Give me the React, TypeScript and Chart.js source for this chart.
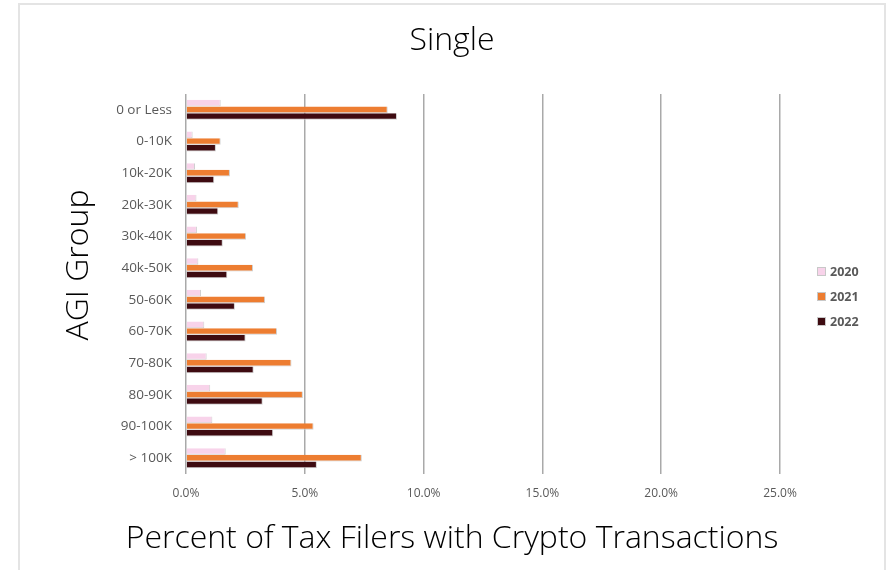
import React, { useEffect, useRef } from "react";
import { Chart, registerables } from "chart.js";

Chart.register(...registerables);

const categories = [
  "0 or Less",
  "0-10K",
  "10k-20K",
  "20k-30K",
  "30k-40K",
  "40k-50K",
  "50-60K",
  "60-70K",
  "70-80K",
  "80-90K",
  "90-100K",
  "> 100K",
];
const seriesNames = ["2020", "2021", "2022"];
const values2020 = [1.46, 0.28, 0.38, 0.44, 0.46, 0.52, 0.63, 0.77, 0.87, 1.02, 1.11, 1.67];
const values2021 = [8.49, 1.46, 1.85, 2.22, 2.53, 2.82, 3.33, 3.83, 4.44, 4.92, 5.37, 7.4];
const values2022 = [8.88, 1.26, 1.19, 1.36, 1.55, 1.74, 2.06, 2.51, 2.85, 3.23, 3.67, 5.51];
const xTicks = [0, 5, 10, 15, 20, 25];
const chartTitle = "Single";
const xTitle = "Percent of Tax Filers with Crypto Transactions";
const yTitle = "AGI Group";

const colors = ["#f8d3ea", "#ed7d31", "#3e0b11"];
const LIGHT_FONT = "'Open Sans'";
const TITLE_SIZE = 32;

const framePlugin = {
  id: "frame",
  beforeDraw(chart: any) {
    const ctx = chart.ctx;
    ctx.save();
    ctx.fillStyle = "#ffffff";
    ctx.fillRect(0, 0, chart.width, chart.height);
    ctx.strokeStyle = "#e4e4e4";
    ctx.lineWidth = 2;
    ctx.beginPath();
    ctx.moveTo(19, chart.height);
    ctx.lineTo(19, 4);
    ctx.lineTo(885, 4);
    ctx.lineTo(885, chart.height);
    ctx.stroke();
    ctx.restore();
  },
};

const extrasPlugin = {
  id: "extras",
  afterDraw(chart: any) {
    const ctx = chart.ctx;
    ctx.save();
    ctx.translate(79, 265);
    ctx.rotate(-Math.PI / 2);
    ctx.fillStyle = "#000000";
    ctx.font = `300 ${TITLE_SIZE}px ${LIGHT_FONT}`;
    ctx.textAlign = "center";
    ctx.textBaseline = "middle";
    ctx.fillText(yTitle, 0, 0);
    ctx.restore();

    ctx.save();
    const ds = chart.data.datasets;
    ds.forEach((d: any, i: number) => {
      const cy = 271 + i * 25;
      ctx.fillStyle = d.backgroundColor;
      ctx.fillRect(817, cy - 4, 9, 9);
      ctx.strokeStyle = "#c8c8c8";
      ctx.lineWidth = 1;
      ctx.strokeRect(817.5, cy - 3.5, 8, 8);
      ctx.fillStyle = "#595959";
      ctx.font = "bold 12.5px 'Open Sans'";
      ctx.textAlign = "left";
      ctx.textBaseline = "middle";
      ctx.fillText(d.label, 830, cy + 1);
    });
    ctx.restore();
  },
};

export default function App() {
  const ref = useRef<HTMLCanvasElement | null>(null);
  useEffect(() => {
    document.body.style.margin = "0";
    if (!ref.current) return;
    const allValues = [values2020, values2021, values2022];
    const chart = new Chart(ref.current, {
      type: "bar",
      data: {
        labels: categories,
        datasets: seriesNames.map((name, i) => ({
          label: name,
          data: allValues[i],
          backgroundColor: colors[i],
          borderColor: "#cfcfcf",
          borderWidth: { top: 0, left: 0, right: 1, bottom: 1 },
          borderSkipped: false,
          barPercentage: 1,
          categoryPercentage: 0.63,
        })),
      },
      options: {
        indexAxis: "y",
        animation: false,
        responsive: false,
        devicePixelRatio: 1,
        layout: { padding: { left: 18, right: 2, top: 3, bottom: 0 } },
        plugins: {
          legend: { display: false },
          tooltip: { enabled: false },
          title: {
            display: true,
            text: chartTitle,
            color: "#000000",
            font: { family: LIGHT_FONT, size: TITLE_SIZE, weight: "300" as any, lineHeight: 1.2 },
            padding: { top: 18.8, bottom: 33.8 },
          },
          subtitle: {
            display: true,
            position: "bottom",
            text: xTitle,
            color: "#000000",
            font: { family: LIGHT_FONT, size: TITLE_SIZE, weight: "300" as any, lineHeight: 1.2 },
            padding: { top: 15.8, bottom: 11.8 },
          },
        },
        scales: {
          x: {
            type: "linear",
            min: 0,
            max: 25,
            afterFit: (s: any) => {
              s.height = 30;
            },
            afterBuildTicks: (s: any) => {
              s.ticks = xTicks.map((v) => ({ value: v }));
            },
            ticks: {
              padding: 12,
              color: "#595959",
              font: { family: "'Open Sans'", size: 12 },
              callback: (v: any) => Number(v).toFixed(1) + "%",
            },
            grid: { color: "#a9a9a9", lineWidth: 1.5, drawTicks: false },
            border: { display: false },
          },
          y: {
            type: "category",
            afterFit: (s: any) => {
              s.width = 168;
            },
            ticks: {
              padding: 14,
              color: "#595959",
              font: { family: "'Open Sans'", size: 13.5 },
            },
            grid: { display: false, drawTicks: false },
            border: { display: false },
          },
          yRight: {
            type: "category",
            position: "right",
            afterFit: (s: any) => {
              s.width = 106;
            },
            ticks: { display: false },
            grid: { display: false, drawTicks: false },
            border: { display: false },
          },
        },
      } as any,
      plugins: [framePlugin, extrasPlugin],
    });
    return () => chart.destroy();
  }, []);
  return (
    <div style={{ width: 888, height: 570 }}>
      <canvas ref={ref} width={888} height={570} style={{ display: "block" }} />
    </div>
  );
}
